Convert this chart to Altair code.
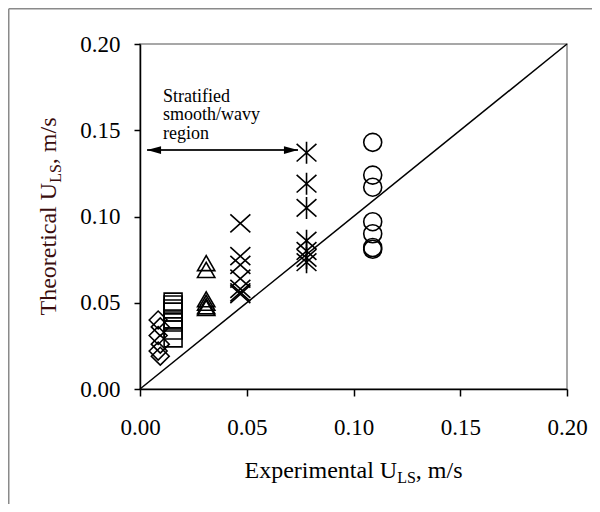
import altair as alt
import pandas as pd

# ---------------- data ----------------
diamond_x = [0.0085, 0.0095, 0.0085, 0.0095, 0.0085, 0.0095]
diamond_y = [0.040, 0.036, 0.031, 0.026, 0.022, 0.019]

square_x = [0.0155, 0.0155, 0.0155, 0.0155, 0.0155, 0.0155, 0.0155, 0.0155]
square_y = [0.0504, 0.0487, 0.0464, 0.0446, 0.0406, 0.0388, 0.0342, 0.0296]

triangle_x = [0.031, 0.031, 0.031, 0.031, 0.031, 0.031]
triangle_y = [0.073, 0.069, 0.052, 0.050, 0.048, 0.047]

xcross_x = [0.047, 0.047, 0.047, 0.047, 0.047, 0.047, 0.047]
xcross_y = [0.096, 0.077, 0.072, 0.064, 0.058, 0.056, 0.055]

aster_x = [0.078, 0.078, 0.078, 0.078, 0.078, 0.078, 0.078]
aster_y = [0.137, 0.119, 0.105, 0.086, 0.080, 0.076, 0.0735]

circle_x = [0.109, 0.109, 0.109, 0.109, 0.109, 0.109, 0.109]
circle_y = [0.143, 0.124, 0.117, 0.097, 0.090, 0.082, 0.081]

diag_x = [0.0, 0.2]
diag_y = [0.0, 0.2]

arrow_x = [0.0033, 0.074]
arrow_y = [0.1385, 0.1385]
arrow_head_x = [0.0066, 0.0707]
arrow_head_dir = ["left", "right"]

note_x = [0.0108]
note_y = [0.1664]
note_text = ["Stratified\nsmooth/wavy\nregion"]

tick_values = [0.0, 0.05, 0.10, 0.15, 0.20]

# ---------------- layout ----------------
W, H = 427, 345
FONT = "Liberation Serif"
TF, SF = 24, 16  # title font and subscript font

xs = alt.Scale(domain=[0, 0.2], nice=False, zero=False)
ys = alt.Scale(domain=[0, 0.2], nice=False, zero=False)

x_axis = alt.Axis(values=tick_values, format=".2f", title=None, grid=False,
                  labelFlush=False, labelOverlap=False, tickSize=7,
                  labelPadding=20)
y_axis = alt.Axis(values=tick_values, format=".2f", title=None, grid=False,
                  labelFlush=False, labelOverlap=False, tickSize=6,
                  labelPadding=14)

X = alt.X("x:Q", scale=xs, axis=x_axis)
Y = alt.Y("y:Q", scale=ys, axis=y_axis)


def pts(xv, yv):
    return pd.DataFrame({"x": xv, "y": yv})


def enc(chart):
    return chart.encode(x=X, y=Y)


diag = enc(alt.Chart(pts(diag_x, diag_y)).mark_line(color="black", strokeWidth=1.5))

sym = dict(filled=False, color="black", strokeWidth=1.6, opacity=1)
diamonds = enc(alt.Chart(pts(diamond_x, diamond_y)).mark_point(shape="diamond", size=320, **sym))
squares = enc(alt.Chart(pts(square_x, square_y)).mark_point(shape="square", size=320, **sym))
triangles = enc(alt.Chart(pts(triangle_x, triangle_y)).mark_point(shape="triangle-up", size=300, **sym))
xcross = enc(alt.Chart(pts(xcross_x, xcross_y)).mark_point(
    shape="M-1,-0.9L1,0.9M-1,0.9L1,-0.9", size=400, **sym))
aster = enc(alt.Chart(pts(aster_x, aster_y)).mark_point(
    shape="M-0.9,-0.8L0.9,0.8M-0.9,0.8L0.9,-0.8M0,-1L0,1", size=484, **sym))
circles = enc(alt.Chart(pts(circle_x, circle_y)).mark_point(shape="circle", size=324, **sym))

arrow_line = enc(alt.Chart(pts(arrow_x, arrow_y)).mark_line(color="#222222", strokeWidth=2))
heads_df = pd.DataFrame({"x": arrow_head_x, "y": [arrow_y[0]] * 2, "d": arrow_head_dir})
heads = alt.Chart(heads_df).mark_point(filled=True, color="black", opacity=1, size=196).encode(
    x=X, y=Y,
    shape=alt.Shape("d:N", legend=None,
                    scale=alt.Scale(domain=["left", "right"],
                                    range=["M1,-0.55L-1,0L1,0.55Z", "M-1,-0.55L1,0L-1,0.55Z"])),
)

note = alt.Chart(pd.DataFrame({"x": note_x, "y": note_y, "t": note_text})).mark_text(
    align="left", baseline="alphabetic", font=FONT, fontSize=18, lineHeight=18.5,
    color="black", lineBreak="\n").encode(x=X, y=Y, text="t:N")

# ---------------- axis titles with subscripts ----------------
EM = {"T": .611, "h": .5, "e": .444, "o": .5, "r": .333, "t": .278, "i": .278, "c": .444,
      "a": .444, "l": .278, "U": .722, "L": .611, "S": .556, ",": .25, " ": .25, "m": .778,
      "/": .278, "s": .389, "E": .611, "x": .5, "p": .5, "n": .5}


def tw(s, f):
    return sum(EM.get(c, .5) for c in s) * f


one = alt.Data(values=[{}])

# x title
xa, xb, xc = "Experimental U", "LS", ", m/s"
total = tw(xa, TF) + tw(xb, SF) + tw(xc, TF)
x0 = W / 2 - total / 2
x1 = x0 + tw(xa, TF)
x2 = x1 + tw(xb, SF)
XT_BASE = 434
xt = [
    alt.Chart(one).mark_text(text=xa, align="right", baseline="alphabetic", font=FONT,
                             fontSize=TF, color="black").encode(x=alt.value(x1), y=alt.value(XT_BASE)),
    alt.Chart(one).mark_text(text=xb, align="left", baseline="alphabetic", font=FONT,
                             fontSize=SF, color="black").encode(x=alt.value(x1), y=alt.value(XT_BASE + 5)),
    alt.Chart(one).mark_text(text=xc, align="left", baseline="alphabetic", font=FONT,
                             fontSize=TF, color="black").encode(x=alt.value(x2), y=alt.value(XT_BASE)),
]

# y title (rotated)
ya, yb, yc = "Theoretical U", "LS", ", m/s"
ytot = tw(ya, TF) + tw(yb, SF) + tw(yc, TF)
y0 = H / 2 + ytot / 2
y1 = y0 - tw(ya, TF)
y2 = y1 - tw(yb, SF)
YT_BASE = -84
YCOL = "#3a0d0d"
yt = [
    alt.Chart(one).mark_text(text=ya, align="right", baseline="alphabetic", angle=270, font=FONT,
                             fontSize=TF, color=YCOL).encode(x=alt.value(YT_BASE), y=alt.value(y1)),
    alt.Chart(one).mark_text(text=yb, align="left", baseline="alphabetic", angle=270, font=FONT,
                             fontSize=SF, color=YCOL).encode(x=alt.value(YT_BASE + 5), y=alt.value(y1)),
    alt.Chart(one).mark_text(text=yc, align="left", baseline="alphabetic", angle=270, font=FONT,
                             fontSize=TF, color=YCOL).encode(x=alt.value(YT_BASE), y=alt.value(y2)),
]

# outer figure frame (top and left)
frame_top = alt.Chart(one).mark_rule(color="#8a8a8a", strokeWidth=1.5).encode(
    x=alt.value(-131.25), x2=alt.value(W + 30), y=alt.value(-35.25))
frame_left = alt.Chart(one).mark_rule(color="#8a8a8a", strokeWidth=1.5).encode(
    x=alt.value(-131.25), y=alt.value(-35.25), y2=alt.value(H + 120))

chart = alt.layer(
    diag, diamonds, squares, triangles, xcross, aster, circles,
    arrow_line, heads, note, *xt, *yt, frame_top, frame_left,
).resolve_scale(shape="independent").properties(
    width=W, height=H, autosize="none",
    padding={"left": 132, "top": 36, "right": 25, "bottom": 115},
).configure_view(
    stroke="#8a8a8a", strokeWidth=1.5,
).configure_axis(
    domainColor="black", domainWidth=1.5, tickColor="black", tickWidth=1.5,
    labelFont=FONT, labelFontSize=23, labelColor="black",
)

chart.save("out.html", embed_options={"renderer": "svg", "actions": False})
